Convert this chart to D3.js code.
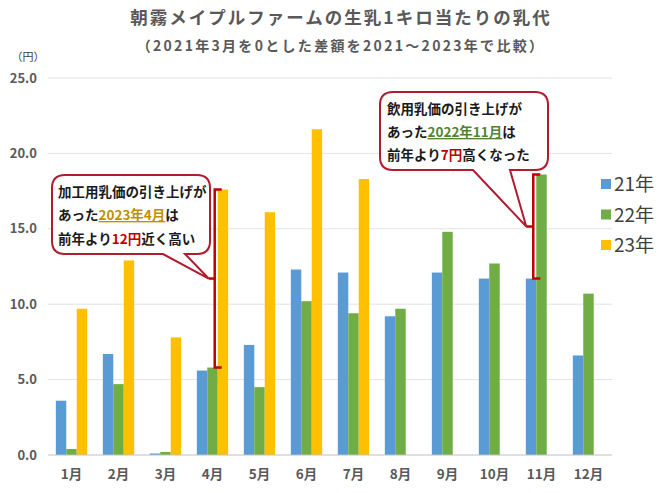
<!DOCTYPE html>
<html><head><meta charset="utf-8">
<script src="https://cdn.jsdelivr.net/npm/d3@7"></script>
<style>
body{margin:0;background:#fff;}
text{font-family:"Noto Sans CJK JP","Noto Sans",sans-serif;}
</style></head>
<body><svg id="c" width="663" height="493"></svg>
<script>
const months = ["1月","2月","3月","4月","5月","6月","7月","8月","9月","10月","11月","12月"];
const seriesNames = ["21年","22年","23年"];
const s21 = [3.6, 6.7, 0.1, 5.6, 7.3, 12.3, 12.1, 9.2, 12.1, 11.7, 11.7, 6.6];
const s22 = [0.4, 4.7, 0.2, 5.8, 4.5, 10.2, 9.4, 9.7, 14.8, 12.7, 18.6, 10.7];
const s23 = [9.7, 12.9, 7.8, 17.6, 16.1, 21.6, 18.3, null, null, null, null, null];
const yTicks = [0, 5, 10, 15, 20, 25];
const colors = ["#5b9bd5","#70ad47","#ffc000"];

(function(){
const svg = d3.select("#c");
const pL = 48, pR = 612, pT = 78, pB = 455;
const x = d3.scaleBand().domain(months).range([pL, pR]).paddingInner(0).paddingOuter(0);
const y = d3.scaleLinear().domain([0, 25]).range([pB, pT]);
const bw = x.bandwidth() / 4.5;
const xs = d3.scaleBand().domain(seriesNames).range([0, bw * 3]);
const off = (x.bandwidth() - bw * 3) / 2;

// gridlines
svg.append("g").selectAll("line").data(yTicks.slice(1)).join("line")
  .attr("x1", pL).attr("x2", pR).attr("y1", d => y(d)).attr("y2", d => y(d))
  .attr("stroke", "#e3e3e3").attr("stroke-width", 1);

// bars
const series = [s21, s22, s23];
series.forEach((arr, si) => {
  svg.append("g").selectAll("rect").data(arr.map((v, i) => ({v, m: months[i]})).filter(d => d.v != null))
    .join("rect")
    .attr("x", d => x(d.m) + off + xs(seriesNames[si]))
    .attr("width", bw)
    .attr("y", d => y(d.v))
    .attr("height", d => y(0) - y(d.v))
    .attr("fill", colors[si]);
});

// baseline
svg.append("line").attr("x1", pL).attr("x2", pR).attr("y1", y(0)).attr("y2", y(0))
  .attr("stroke", "#bfbfbf").attr("stroke-width", 1);

// y axis labels
const yAxis = d3.axisLeft(y).tickValues(yTicks).tickFormat(d3.format(".1f")).tickSize(0).tickPadding(11);
const ga = svg.append("g").attr("transform", `translate(${pL},0)`).call(yAxis);
ga.select(".domain").remove();
ga.selectAll("text").attr("font-size", 13).attr("font-weight", "bold").attr("fill", "#595959")
  .attr("font-family", '"Noto Sans CJK JP",sans-serif');

// x axis labels
const xAxis = d3.axisBottom(x).tickSize(0).tickPadding(14);
const gx = svg.append("g").attr("transform", `translate(0,${pB})`).call(xAxis);
gx.select(".domain").remove();
gx.selectAll("text").attr("font-size", 13.5).attr("font-weight", "bold").attr("fill", "#595959")
  .attr("font-family", '"Noto Sans CJK JP",sans-serif');

// unit
svg.append("text").attr("x", 28).attr("y", 61).attr("text-anchor", "middle")
  .attr("font-size", 11).attr("fill", "#404040").text("（円）");

// titles
svg.append("text").attr("x", 341).attr("y", 24).attr("text-anchor", "middle")
  .attr("font-size", 17.5).attr("font-weight", "bold").attr("fill", "#595959").attr("letter-spacing", 2)
  .text("朝霧メイプルファームの生乳1キロ当たりの乳代");
svg.append("text").attr("x", 341).attr("y", 51).attr("text-anchor", "middle")
  .attr("font-size", 14).attr("font-weight", "bold").attr("fill", "#595959").attr("letter-spacing", 2.3)
  .text("（2021年3月を0とした差額を2021～2023年で比較）");

// legend
const lg = svg.append("g");
seriesNames.forEach((n, i) => {
  const cy = 184 + i * 30.5;
  lg.append("rect").attr("x", 601).attr("y", cy - 5).attr("width", 10).attr("height", 10).attr("fill", colors[i]);
  lg.append("text").attr("x", 614).attr("y", cy + 7).attr("font-size", 19).attr("fill", "#404040")
    .attr("font-family", '"Liberation Sans","Noto Sans CJK JP",sans-serif').text(n);
});

// callouts
const red = "#c00000", border = "#b01c2e";
function callout(x0, y0, x1, y1, r, b1, b2, tx, ty) {
  const p = `M${x0+r},${y0} H${x1-r} Q${x1},${y0} ${x1},${y0+r} V${y1-r} Q${x1},${y1} ${x1-r},${y1} H${b2} L${tx},${ty} L${b1},${y1} H${x0+r} Q${x0},${y1} ${x0},${y1-r} V${y0+r} Q${x0},${y0} ${x0+r},${y0} Z`;
  svg.append("path").attr("d", p).attr("fill", "#fff").attr("stroke", border).attr("stroke-width", 2);
}
function bracket(bx, yTop, yBot, tipX, midY) {
  const g = svg.append("g").attr("stroke", red).attr("stroke-width", 2.5).attr("fill", "none");
  g.append("path").attr("d", `M${bx+7},${yTop} H${bx} V${yBot} H${bx+7}`);
  g.append("path").attr("d", `M${tipX},${midY} H${bx}`);
}
function lines(x0, ys, parts) {
  parts.forEach((segs, i) => {
    const t = svg.append("text").attr("x", x0).attr("y", ys[i]).attr("font-size", 13.5).attr("font-weight", "bold").attr("fill", "#1a1a1a");
    segs.forEach(s => {
      const ts = t.append("tspan").text(s.t);
      if (s.c) ts.attr("fill", s.c);
      if (s.u) ts.attr("text-decoration", "underline");
    });
  });
}

// callout 1 (April)
const bx1 = x(months[3]) + off + xs("23年") - 3;
const mid1 = (y(s23[3]) + y(s22[3])) / 2;
callout(52, 175, 210, 254, 13, 163, 185, bx1 - 6, mid1);
bracket(bx1, y(s23[3]), y(s22[3]), bx1 - 6, mid1);
lines(58, [197, 220, 244], [
  [{t:"加工用乳価の引き上げが"}],
  [{t:"あった"},{t:"2023年4月",c:"#bf9000",u:true},{t:"は"}],
  [{t:"前年より"},{t:"12円",c:red},{t:"近く高い"}]
]);

// callout 2 (November)
const bx2 = x(months[10]) + off + xs("22年") - 3;
const mid2 = (y(s22[10]) + y(s21[10])) / 2;
callout(380, 92, 548, 170, 13, 473, 510, bx2 - 7, mid2);
bracket(bx2, y(s22[10]), y(s21[10]), bx2 - 7, mid2);
lines(387, [114, 137, 160], [
  [{t:"飲用乳価の引き上げが"}],
  [{t:"あった"},{t:"2022年11月",c:"#548235",u:true},{t:"は"}],
  [{t:"前年より"},{t:"7円",c:red},{t:"高くなった"}]
]);
})();
</script></body></html>
